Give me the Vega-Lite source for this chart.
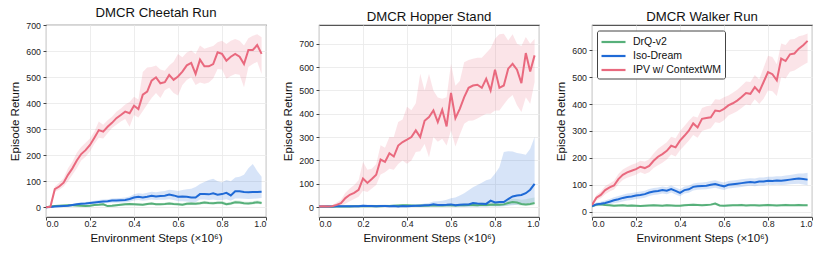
{
"$schema":"https://vega.github.io/schema/vega-lite/v6.json",
"padding":{"left":9,"top":5,"right":5,"bottom":5},
"background":"white",
"config":{
"font":"Liberation Sans",
"view":{"stroke":"#555","strokeWidth":1.1},
"axis":{"labelFontSize":8.8,"labelColor":"#222","titleFontSize":11.5,"titleFontWeight":"normal","titleColor":"#111","gridColor":"#ebebeb","gridWidth":0.9,"tickColor":"#444","tickSize":3,"domain":false,"labelPadding":2.5},
"axisX":{"titlePadding":5,"labelPadding":-1},
"axisY":{"titlePadding":5},
"title":{"fontSize":13.2,"fontWeight":"normal","color":"#111","offset":1,"anchor":"middle","frame":"group"},
"legend":{"fillColor":"white","strokeColor":"#444","padding":3,"cornerRadius":2,"symbolType":"M-1,0H2.43","symbolSize":196,"symbolStrokeWidth":2.2,"symbolOpacity":1,"symbolFillColor":"transparent","labelFontSize":10.5,"labelColor":"#111","labelOffset":16,"rowPadding":-2.5,"title":null}
},
"datasets":{
"cheetah":[
{"method":"DrQ-v2","step":0,"ret":0,"lo":0,"hi":1},{"method":"DrQ-v2","step":0.02,"ret":3,"lo":1,"hi":5},{"method":"DrQ-v2","step":0.04,"ret":5,"lo":2,"hi":8},{"method":"DrQ-v2","step":0.06,"ret":6,"lo":3,"hi":9},{"method":"DrQ-v2","step":0.08,"ret":7,"lo":3,"hi":11},{"method":"DrQ-v2","step":0.1,"ret":8,"lo":4,"hi":12},{"method":"DrQ-v2","step":0.12,"ret":8,"lo":4,"hi":12},{"method":"DrQ-v2","step":0.14,"ret":7,"lo":3,"hi":11},{"method":"DrQ-v2","step":0.16,"ret":6,"lo":2,"hi":10},{"method":"DrQ-v2","step":0.18,"ret":5,"lo":1,"hi":9},{"method":"DrQ-v2","step":0.2,"ret":6,"lo":2,"hi":10},{"method":"DrQ-v2","step":0.22,"ret":9,"lo":5,"hi":13},{"method":"DrQ-v2","step":0.24,"ret":10,"lo":6,"hi":15},{"method":"DrQ-v2","step":0.26,"ret":12,"lo":7,"hi":17},{"method":"DrQ-v2","step":0.28,"ret":5,"lo":1,"hi":10},{"method":"DrQ-v2","step":0.3,"ret":6,"lo":2,"hi":11},{"method":"DrQ-v2","step":0.32,"ret":8,"lo":3,"hi":13},{"method":"DrQ-v2","step":0.34,"ret":10,"lo":5,"hi":15},{"method":"DrQ-v2","step":0.36,"ret":12,"lo":7,"hi":17},{"method":"DrQ-v2","step":0.38,"ret":13,"lo":8,"hi":18},{"method":"DrQ-v2","step":0.4,"ret":12,"lo":7,"hi":17},{"method":"DrQ-v2","step":0.42,"ret":11,"lo":6,"hi":16},{"method":"DrQ-v2","step":0.44,"ret":10,"lo":5,"hi":15},{"method":"DrQ-v2","step":0.46,"ret":13,"lo":8,"hi":18},{"method":"DrQ-v2","step":0.48,"ret":15,"lo":10,"hi":20},{"method":"DrQ-v2","step":0.5,"ret":12,"lo":7,"hi":17},{"method":"DrQ-v2","step":0.52,"ret":12,"lo":7,"hi":17},{"method":"DrQ-v2","step":0.54,"ret":13,"lo":8,"hi":18},{"method":"DrQ-v2","step":0.56,"ret":15,"lo":10,"hi":21},{"method":"DrQ-v2","step":0.58,"ret":13,"lo":8,"hi":19},{"method":"DrQ-v2","step":0.6,"ret":12,"lo":7,"hi":18},{"method":"DrQ-v2","step":0.62,"ret":10,"lo":5,"hi":16},{"method":"DrQ-v2","step":0.64,"ret":14,"lo":8,"hi":20},{"method":"DrQ-v2","step":0.66,"ret":15,"lo":9,"hi":21},{"method":"DrQ-v2","step":0.68,"ret":14,"lo":8,"hi":20},{"method":"DrQ-v2","step":0.7,"ret":16,"lo":10,"hi":22},{"method":"DrQ-v2","step":0.72,"ret":19,"lo":13,"hi":25},{"method":"DrQ-v2","step":0.74,"ret":17,"lo":11,"hi":23},{"method":"DrQ-v2","step":0.76,"ret":16,"lo":10,"hi":22},{"method":"DrQ-v2","step":0.78,"ret":18,"lo":12,"hi":24},{"method":"DrQ-v2","step":0.8,"ret":18,"lo":12,"hi":25},{"method":"DrQ-v2","step":0.82,"ret":12,"lo":6,"hi":19},{"method":"DrQ-v2","step":0.84,"ret":15,"lo":9,"hi":22},{"method":"DrQ-v2","step":0.86,"ret":20,"lo":14,"hi":27},{"method":"DrQ-v2","step":0.88,"ret":19,"lo":13,"hi":26},{"method":"DrQ-v2","step":0.9,"ret":16,"lo":10,"hi":23},{"method":"DrQ-v2","step":0.92,"ret":15,"lo":9,"hi":22},{"method":"DrQ-v2","step":0.94,"ret":17,"lo":11,"hi":24},{"method":"DrQ-v2","step":0.96,"ret":20,"lo":14,"hi":27},{"method":"DrQ-v2","step":0.98,"ret":17,"lo":11,"hi":24},
{"method":"Iso-Dream","step":0,"ret":0,"lo":0,"hi":1},{"method":"Iso-Dream","step":0.02,"ret":1,"lo":0,"hi":3},{"method":"Iso-Dream","step":0.04,"ret":3,"lo":1,"hi":5},{"method":"Iso-Dream","step":0.06,"ret":4,"lo":2,"hi":7},{"method":"Iso-Dream","step":0.08,"ret":5,"lo":3,"hi":8},{"method":"Iso-Dream","step":0.1,"ret":6,"lo":3,"hi":10},{"method":"Iso-Dream","step":0.12,"ret":9,"lo":5,"hi":13},{"method":"Iso-Dream","step":0.14,"ret":12,"lo":7,"hi":17},{"method":"Iso-Dream","step":0.16,"ret":14,"lo":9,"hi":19},{"method":"Iso-Dream","step":0.18,"ret":15,"lo":10,"hi":21},{"method":"Iso-Dream","step":0.2,"ret":17,"lo":11,"hi":23},{"method":"Iso-Dream","step":0.22,"ret":19,"lo":13,"hi":25},{"method":"Iso-Dream","step":0.24,"ret":21,"lo":14,"hi":28},{"method":"Iso-Dream","step":0.26,"ret":23,"lo":16,"hi":30},{"method":"Iso-Dream","step":0.28,"ret":24,"lo":17,"hi":31},{"method":"Iso-Dream","step":0.3,"ret":26,"lo":18,"hi":34},{"method":"Iso-Dream","step":0.32,"ret":26,"lo":18,"hi":35},{"method":"Iso-Dream","step":0.34,"ret":27,"lo":19,"hi":36},{"method":"Iso-Dream","step":0.36,"ret":28,"lo":19,"hi":38},{"method":"Iso-Dream","step":0.38,"ret":32,"lo":22,"hi":42},{"method":"Iso-Dream","step":0.4,"ret":38,"lo":26,"hi":50},{"method":"Iso-Dream","step":0.42,"ret":41,"lo":28,"hi":54},{"method":"Iso-Dream","step":0.44,"ret":38,"lo":25,"hi":52},{"method":"Iso-Dream","step":0.46,"ret":41,"lo":27,"hi":56},{"method":"Iso-Dream","step":0.48,"ret":45,"lo":30,"hi":60},{"method":"Iso-Dream","step":0.5,"ret":42,"lo":28,"hi":58},{"method":"Iso-Dream","step":0.52,"ret":44,"lo":29,"hi":61},{"method":"Iso-Dream","step":0.54,"ret":45,"lo":29,"hi":63},{"method":"Iso-Dream","step":0.56,"ret":49,"lo":31,"hi":68},{"method":"Iso-Dream","step":0.58,"ret":46,"lo":28,"hi":66},{"method":"Iso-Dream","step":0.6,"ret":41,"lo":24,"hi":63},{"method":"Iso-Dream","step":0.62,"ret":42,"lo":24,"hi":67},{"method":"Iso-Dream","step":0.64,"ret":41,"lo":23,"hi":70},{"method":"Iso-Dream","step":0.66,"ret":38,"lo":20,"hi":72},{"method":"Iso-Dream","step":0.68,"ret":38,"lo":20,"hi":78},{"method":"Iso-Dream","step":0.7,"ret":51,"lo":30,"hi":90},{"method":"Iso-Dream","step":0.72,"ret":51,"lo":30,"hi":98},{"method":"Iso-Dream","step":0.74,"ret":50,"lo":28,"hi":105},{"method":"Iso-Dream","step":0.76,"ret":54,"lo":30,"hi":110},{"method":"Iso-Dream","step":0.78,"ret":49,"lo":27,"hi":100},{"method":"Iso-Dream","step":0.8,"ret":51,"lo":28,"hi":96},{"method":"Iso-Dream","step":0.82,"ret":56,"lo":31,"hi":105},{"method":"Iso-Dream","step":0.84,"ret":46,"lo":25,"hi":100},{"method":"Iso-Dream","step":0.86,"ret":62,"lo":34,"hi":115},{"method":"Iso-Dream","step":0.88,"ret":62,"lo":34,"hi":118},{"method":"Iso-Dream","step":0.9,"ret":59,"lo":33,"hi":125},{"method":"Iso-Dream","step":0.92,"ret":58,"lo":32,"hi":150},{"method":"Iso-Dream","step":0.94,"ret":59,"lo":33,"hi":167},{"method":"Iso-Dream","step":0.96,"ret":59,"lo":34,"hi":140},{"method":"Iso-Dream","step":0.98,"ret":60,"lo":36,"hi":118},
{"method":"IPV w/ ContextWM","step":0,"ret":0,"lo":0,"hi":2},{"method":"IPV w/ ContextWM","step":0.02,"ret":2,"lo":0,"hi":5},{"method":"IPV w/ ContextWM","step":0.04,"ret":70,"lo":60,"hi":80},{"method":"IPV w/ ContextWM","step":0.06,"ret":80,"lo":68,"hi":95},{"method":"IPV w/ ContextWM","step":0.08,"ret":95,"lo":80,"hi":112},{"method":"IPV w/ ContextWM","step":0.1,"ret":125,"lo":100,"hi":150},{"method":"IPV w/ ContextWM","step":0.12,"ret":150,"lo":125,"hi":175},{"method":"IPV w/ ContextWM","step":0.14,"ret":180,"lo":150,"hi":210},{"method":"IPV w/ ContextWM","step":0.16,"ret":205,"lo":180,"hi":232},{"method":"IPV w/ ContextWM","step":0.18,"ret":220,"lo":195,"hi":248},{"method":"IPV w/ ContextWM","step":0.2,"ret":240,"lo":215,"hi":265},{"method":"IPV w/ ContextWM","step":0.22,"ret":268,"lo":245,"hi":292},{"method":"IPV w/ ContextWM","step":0.24,"ret":297,"lo":268,"hi":330},{"method":"IPV w/ ContextWM","step":0.26,"ret":291,"lo":265,"hi":318},{"method":"IPV w/ ContextWM","step":0.28,"ret":310,"lo":285,"hi":335},{"method":"IPV w/ ContextWM","step":0.3,"ret":325,"lo":305,"hi":348},{"method":"IPV w/ ContextWM","step":0.32,"ret":343,"lo":318,"hi":368},{"method":"IPV w/ ContextWM","step":0.34,"ret":355,"lo":330,"hi":380},{"method":"IPV w/ ContextWM","step":0.36,"ret":368,"lo":340,"hi":395},{"method":"IPV w/ ContextWM","step":0.38,"ret":362,"lo":310,"hi":405},{"method":"IPV w/ ContextWM","step":0.4,"ret":391,"lo":355,"hi":425},{"method":"IPV w/ ContextWM","step":0.42,"ret":378,"lo":345,"hi":415},{"method":"IPV w/ ContextWM","step":0.44,"ret":433,"lo":370,"hi":520},{"method":"IPV w/ ContextWM","step":0.46,"ret":445,"lo":395,"hi":538},{"method":"IPV w/ ContextWM","step":0.48,"ret":487,"lo":420,"hi":540},{"method":"IPV w/ ContextWM","step":0.5,"ret":500,"lo":440,"hi":545},{"method":"IPV w/ ContextWM","step":0.52,"ret":477,"lo":420,"hi":530},{"method":"IPV w/ ContextWM","step":0.54,"ret":481,"lo":450,"hi":525},{"method":"IPV w/ ContextWM","step":0.56,"ret":509,"lo":460,"hi":545},{"method":"IPV w/ ContextWM","step":0.58,"ret":490,"lo":440,"hi":560},{"method":"IPV w/ ContextWM","step":0.6,"ret":503,"lo":430,"hi":590},{"method":"IPV w/ ContextWM","step":0.62,"ret":522,"lo":470,"hi":577},{"method":"IPV w/ ContextWM","step":0.64,"ret":546,"lo":490,"hi":595},{"method":"IPV w/ ContextWM","step":0.66,"ret":555,"lo":500,"hi":603},{"method":"IPV w/ ContextWM","step":0.68,"ret":513,"lo":470,"hi":590},{"method":"IPV w/ ContextWM","step":0.7,"ret":568,"lo":480,"hi":622},{"method":"IPV w/ ContextWM","step":0.72,"ret":542,"lo":475,"hi":610},{"method":"IPV w/ ContextWM","step":0.74,"ret":542,"lo":480,"hi":615},{"method":"IPV w/ ContextWM","step":0.76,"ret":551,"lo":495,"hi":620},{"method":"IPV w/ ContextWM","step":0.78,"ret":596,"lo":532,"hi":635},{"method":"IPV w/ ContextWM","step":0.8,"ret":590,"lo":530,"hi":640},{"method":"IPV w/ ContextWM","step":0.82,"ret":564,"lo":494,"hi":628},{"method":"IPV w/ ContextWM","step":0.84,"ret":579,"lo":505,"hi":640},{"method":"IPV w/ ContextWM","step":0.86,"ret":590,"lo":513,"hi":647},{"method":"IPV w/ ContextWM","step":0.88,"ret":579,"lo":510,"hi":640},{"method":"IPV w/ ContextWM","step":0.9,"ret":551,"lo":462,"hi":622},{"method":"IPV w/ ContextWM","step":0.92,"ret":605,"lo":540,"hi":650},{"method":"IPV w/ ContextWM","step":0.94,"ret":605,"lo":551,"hi":660},{"method":"IPV w/ ContextWM","step":0.96,"ret":624,"lo":560,"hi":665},{"method":"IPV w/ ContextWM","step":0.98,"ret":590,"lo":513,"hi":654}
],
"hopper":[
{"method":"DrQ-v2","step":0,"ret":2,"lo":0,"hi":5},{"method":"DrQ-v2","step":0.02,"ret":2,"lo":0,"hi":5},{"method":"DrQ-v2","step":0.04,"ret":3,"lo":0,"hi":6},{"method":"DrQ-v2","step":0.06,"ret":2,"lo":0,"hi":5},{"method":"DrQ-v2","step":0.08,"ret":3,"lo":0,"hi":6},{"method":"DrQ-v2","step":0.1,"ret":3,"lo":0,"hi":6},{"method":"DrQ-v2","step":0.12,"ret":3,"lo":0,"hi":7},{"method":"DrQ-v2","step":0.14,"ret":3,"lo":0,"hi":7},{"method":"DrQ-v2","step":0.16,"ret":4,"lo":1,"hi":8},{"method":"DrQ-v2","step":0.18,"ret":4,"lo":1,"hi":8},{"method":"DrQ-v2","step":0.2,"ret":4,"lo":1,"hi":8},{"method":"DrQ-v2","step":0.22,"ret":5,"lo":1,"hi":9},{"method":"DrQ-v2","step":0.24,"ret":4,"lo":1,"hi":8},{"method":"DrQ-v2","step":0.26,"ret":5,"lo":1,"hi":9},{"method":"DrQ-v2","step":0.28,"ret":4,"lo":1,"hi":9},{"method":"DrQ-v2","step":0.3,"ret":5,"lo":1,"hi":10},{"method":"DrQ-v2","step":0.32,"ret":5,"lo":1,"hi":10},{"method":"DrQ-v2","step":0.34,"ret":6,"lo":2,"hi":11},{"method":"DrQ-v2","step":0.36,"ret":7,"lo":2,"hi":12},{"method":"DrQ-v2","step":0.38,"ret":8,"lo":3,"hi":13},{"method":"DrQ-v2","step":0.4,"ret":8,"lo":3,"hi":13},{"method":"DrQ-v2","step":0.42,"ret":7,"lo":2,"hi":12},{"method":"DrQ-v2","step":0.44,"ret":6,"lo":2,"hi":11},{"method":"DrQ-v2","step":0.46,"ret":7,"lo":2,"hi":12},{"method":"DrQ-v2","step":0.48,"ret":6,"lo":2,"hi":11},{"method":"DrQ-v2","step":0.5,"ret":7,"lo":2,"hi":12},{"method":"DrQ-v2","step":0.52,"ret":7,"lo":2,"hi":13},{"method":"DrQ-v2","step":0.54,"ret":8,"lo":3,"hi":14},{"method":"DrQ-v2","step":0.56,"ret":7,"lo":2,"hi":13},{"method":"DrQ-v2","step":0.58,"ret":8,"lo":3,"hi":14},{"method":"DrQ-v2","step":0.6,"ret":8,"lo":3,"hi":15},{"method":"DrQ-v2","step":0.62,"ret":7,"lo":2,"hi":14},{"method":"DrQ-v2","step":0.64,"ret":8,"lo":3,"hi":15},{"method":"DrQ-v2","step":0.66,"ret":8,"lo":3,"hi":16},{"method":"DrQ-v2","step":0.68,"ret":9,"lo":3,"hi":17},{"method":"DrQ-v2","step":0.7,"ret":9,"lo":3,"hi":18},{"method":"DrQ-v2","step":0.72,"ret":8,"lo":3,"hi":18},{"method":"DrQ-v2","step":0.74,"ret":10,"lo":4,"hi":20},{"method":"DrQ-v2","step":0.76,"ret":9,"lo":3,"hi":20},{"method":"DrQ-v2","step":0.78,"ret":10,"lo":4,"hi":22},{"method":"DrQ-v2","step":0.8,"ret":11,"lo":4,"hi":24},{"method":"DrQ-v2","step":0.82,"ret":10,"lo":4,"hi":24},{"method":"DrQ-v2","step":0.84,"ret":12,"lo":5,"hi":27},{"method":"DrQ-v2","step":0.86,"ret":18,"lo":8,"hi":32},{"method":"DrQ-v2","step":0.88,"ret":22,"lo":10,"hi":36},{"method":"DrQ-v2","step":0.9,"ret":20,"lo":9,"hi":35},{"method":"DrQ-v2","step":0.92,"ret":14,"lo":6,"hi":32},{"method":"DrQ-v2","step":0.94,"ret":12,"lo":5,"hi":34},{"method":"DrQ-v2","step":0.96,"ret":14,"lo":6,"hi":38},{"method":"DrQ-v2","step":0.98,"ret":18,"lo":8,"hi":42},
{"method":"Iso-Dream","step":0,"ret":3,"lo":0,"hi":6},{"method":"Iso-Dream","step":0.02,"ret":3,"lo":0,"hi":6},{"method":"Iso-Dream","step":0.04,"ret":3,"lo":0,"hi":6},{"method":"Iso-Dream","step":0.06,"ret":3,"lo":0,"hi":6},{"method":"Iso-Dream","step":0.08,"ret":4,"lo":0,"hi":7},{"method":"Iso-Dream","step":0.1,"ret":4,"lo":0,"hi":8},{"method":"Iso-Dream","step":0.12,"ret":4,"lo":0,"hi":8},{"method":"Iso-Dream","step":0.14,"ret":4,"lo":0,"hi":8},{"method":"Iso-Dream","step":0.16,"ret":4,"lo":0,"hi":8},{"method":"Iso-Dream","step":0.18,"ret":4,"lo":0,"hi":9},{"method":"Iso-Dream","step":0.2,"ret":6,"lo":1,"hi":11},{"method":"Iso-Dream","step":0.22,"ret":5,"lo":1,"hi":10},{"method":"Iso-Dream","step":0.24,"ret":5,"lo":1,"hi":10},{"method":"Iso-Dream","step":0.26,"ret":4,"lo":0,"hi":9},{"method":"Iso-Dream","step":0.28,"ret":5,"lo":1,"hi":10},{"method":"Iso-Dream","step":0.3,"ret":5,"lo":1,"hi":10},{"method":"Iso-Dream","step":0.32,"ret":4,"lo":0,"hi":9},{"method":"Iso-Dream","step":0.34,"ret":5,"lo":1,"hi":10},{"method":"Iso-Dream","step":0.36,"ret":3,"lo":0,"hi":8},{"method":"Iso-Dream","step":0.38,"ret":5,"lo":1,"hi":10},{"method":"Iso-Dream","step":0.4,"ret":4,"lo":0,"hi":9},{"method":"Iso-Dream","step":0.42,"ret":5,"lo":1,"hi":11},{"method":"Iso-Dream","step":0.44,"ret":6,"lo":1,"hi":12},{"method":"Iso-Dream","step":0.46,"ret":6,"lo":1,"hi":13},{"method":"Iso-Dream","step":0.48,"ret":8,"lo":2,"hi":16},{"method":"Iso-Dream","step":0.5,"ret":8,"lo":2,"hi":18},{"method":"Iso-Dream","step":0.52,"ret":12,"lo":3,"hi":24},{"method":"Iso-Dream","step":0.54,"ret":9,"lo":2,"hi":25},{"method":"Iso-Dream","step":0.56,"ret":9,"lo":2,"hi":28},{"method":"Iso-Dream","step":0.58,"ret":10,"lo":2,"hi":32},{"method":"Iso-Dream","step":0.6,"ret":12,"lo":2,"hi":38},{"method":"Iso-Dream","step":0.62,"ret":8,"lo":1,"hi":42},{"method":"Iso-Dream","step":0.64,"ret":10,"lo":1,"hi":50},{"method":"Iso-Dream","step":0.66,"ret":11,"lo":1,"hi":60},{"method":"Iso-Dream","step":0.68,"ret":12,"lo":1,"hi":72},{"method":"Iso-Dream","step":0.7,"ret":18,"lo":2,"hi":85},{"method":"Iso-Dream","step":0.72,"ret":16,"lo":2,"hi":95},{"method":"Iso-Dream","step":0.74,"ret":15,"lo":2,"hi":105},{"method":"Iso-Dream","step":0.76,"ret":14,"lo":2,"hi":115},{"method":"Iso-Dream","step":0.78,"ret":28,"lo":4,"hi":121},{"method":"Iso-Dream","step":0.8,"ret":20,"lo":3,"hi":143},{"method":"Iso-Dream","step":0.82,"ret":22,"lo":3,"hi":171},{"method":"Iso-Dream","step":0.84,"ret":22,"lo":4,"hi":236},{"method":"Iso-Dream","step":0.86,"ret":35,"lo":6,"hi":240},{"method":"Iso-Dream","step":0.88,"ret":46,"lo":8,"hi":238},{"method":"Iso-Dream","step":0.9,"ret":50,"lo":10,"hi":232},{"method":"Iso-Dream","step":0.92,"ret":52,"lo":12,"hi":229},{"method":"Iso-Dream","step":0.94,"ret":60,"lo":14,"hi":225},{"method":"Iso-Dream","step":0.96,"ret":75,"lo":18,"hi":250},{"method":"Iso-Dream","step":0.98,"ret":100,"lo":22,"hi":300},
{"method":"IPV w/ ContextWM","step":0,"ret":3,"lo":0,"hi":6},{"method":"IPV w/ ContextWM","step":0.02,"ret":4,"lo":0,"hi":8},{"method":"IPV w/ ContextWM","step":0.04,"ret":3,"lo":0,"hi":7},{"method":"IPV w/ ContextWM","step":0.06,"ret":4,"lo":0,"hi":8},{"method":"IPV w/ ContextWM","step":0.08,"ret":10,"lo":2,"hi":20},{"method":"IPV w/ ContextWM","step":0.1,"ret":17,"lo":5,"hi":32},{"method":"IPV w/ ContextWM","step":0.12,"ret":39,"lo":15,"hi":62},{"method":"IPV w/ ContextWM","step":0.14,"ret":53,"lo":25,"hi":80},{"method":"IPV w/ ContextWM","step":0.16,"ret":61,"lo":35,"hi":95},{"method":"IPV w/ ContextWM","step":0.18,"ret":74,"lo":45,"hi":115},{"method":"IPV w/ ContextWM","step":0.2,"ret":123,"lo":70,"hi":193},{"method":"IPV w/ ContextWM","step":0.22,"ret":104,"lo":65,"hi":160},{"method":"IPV w/ ContextWM","step":0.24,"ret":121,"lo":80,"hi":165},{"method":"IPV w/ ContextWM","step":0.26,"ret":139,"lo":95,"hi":185},{"method":"IPV w/ ContextWM","step":0.28,"ret":204,"lo":140,"hi":265},{"method":"IPV w/ ContextWM","step":0.3,"ret":194,"lo":150,"hi":255},{"method":"IPV w/ ContextWM","step":0.32,"ret":231,"lo":165,"hi":300},{"method":"IPV w/ ContextWM","step":0.34,"ret":217,"lo":160,"hi":300},{"method":"IPV w/ ContextWM","step":0.36,"ret":264,"lo":185,"hi":365},{"method":"IPV w/ ContextWM","step":0.38,"ret":279,"lo":200,"hi":375},{"method":"IPV w/ ContextWM","step":0.4,"ret":289,"lo":186,"hi":430},{"method":"IPV w/ ContextWM","step":0.42,"ret":300,"lo":200,"hi":415},{"method":"IPV w/ ContextWM","step":0.44,"ret":329,"lo":236,"hi":445},{"method":"IPV w/ ContextWM","step":0.46,"ret":300,"lo":240,"hi":571},{"method":"IPV w/ ContextWM","step":0.48,"ret":370,"lo":270,"hi":500},{"method":"IPV w/ ContextWM","step":0.5,"ret":386,"lo":214,"hi":570},{"method":"IPV w/ ContextWM","step":0.52,"ret":414,"lo":300,"hi":500},{"method":"IPV w/ ContextWM","step":0.54,"ret":364,"lo":280,"hi":470},{"method":"IPV w/ ContextWM","step":0.56,"ret":417,"lo":293,"hi":464},{"method":"IPV w/ ContextWM","step":0.58,"ret":346,"lo":264,"hi":471},{"method":"IPV w/ ContextWM","step":0.6,"ret":489,"lo":329,"hi":614},{"method":"IPV w/ ContextWM","step":0.62,"ret":381,"lo":260,"hi":520},{"method":"IPV w/ ContextWM","step":0.64,"ret":421,"lo":310,"hi":540},{"method":"IPV w/ ContextWM","step":0.66,"ret":471,"lo":357,"hi":621},{"method":"IPV w/ ContextWM","step":0.68,"ret":511,"lo":370,"hi":630},{"method":"IPV w/ ContextWM","step":0.7,"ret":521,"lo":371,"hi":636},{"method":"IPV w/ ContextWM","step":0.72,"ret":524,"lo":380,"hi":640},{"method":"IPV w/ ContextWM","step":0.74,"ret":511,"lo":390,"hi":640},{"method":"IPV w/ ContextWM","step":0.76,"ret":550,"lo":400,"hi":660},{"method":"IPV w/ ContextWM","step":0.78,"ret":500,"lo":400,"hi":680},{"method":"IPV w/ ContextWM","step":0.8,"ret":589,"lo":414,"hi":721},{"method":"IPV w/ ContextWM","step":0.82,"ret":511,"lo":414,"hi":740},{"method":"IPV w/ ContextWM","step":0.84,"ret":521,"lo":440,"hi":743},{"method":"IPV w/ ContextWM","step":0.86,"ret":593,"lo":464,"hi":714},{"method":"IPV w/ ContextWM","step":0.88,"ret":614,"lo":480,"hi":740},{"method":"IPV w/ ContextWM","step":0.9,"ret":589,"lo":436,"hi":700},{"method":"IPV w/ ContextWM","step":0.92,"ret":531,"lo":407,"hi":690},{"method":"IPV w/ ContextWM","step":0.94,"ret":660,"lo":471,"hi":729},{"method":"IPV w/ ContextWM","step":0.96,"ret":581,"lo":443,"hi":700},{"method":"IPV w/ ContextWM","step":0.98,"ret":650,"lo":536,"hi":720}
],
"walker":[
{"method":"DrQ-v2","step":0,"ret":20,"lo":16,"hi":24},{"method":"DrQ-v2","step":0.02,"ret":26,"lo":22,"hi":30},{"method":"DrQ-v2","step":0.04,"ret":27,"lo":23,"hi":31},{"method":"DrQ-v2","step":0.06,"ret":25,"lo":21,"hi":29},{"method":"DrQ-v2","step":0.08,"ret":24,"lo":20,"hi":28},{"method":"DrQ-v2","step":0.1,"ret":22,"lo":18,"hi":26},{"method":"DrQ-v2","step":0.12,"ret":23,"lo":19,"hi":27},{"method":"DrQ-v2","step":0.14,"ret":24,"lo":20,"hi":28},{"method":"DrQ-v2","step":0.16,"ret":22,"lo":18,"hi":26},{"method":"DrQ-v2","step":0.18,"ret":23,"lo":19,"hi":27},{"method":"DrQ-v2","step":0.2,"ret":22,"lo":18,"hi":26},{"method":"DrQ-v2","step":0.22,"ret":21,"lo":17,"hi":25},{"method":"DrQ-v2","step":0.24,"ret":22,"lo":18,"hi":26},{"method":"DrQ-v2","step":0.26,"ret":23,"lo":19,"hi":27},{"method":"DrQ-v2","step":0.28,"ret":24,"lo":20,"hi":28},{"method":"DrQ-v2","step":0.3,"ret":23,"lo":19,"hi":27},{"method":"DrQ-v2","step":0.32,"ret":22,"lo":18,"hi":26},{"method":"DrQ-v2","step":0.34,"ret":24,"lo":20,"hi":28},{"method":"DrQ-v2","step":0.36,"ret":23,"lo":19,"hi":27},{"method":"DrQ-v2","step":0.38,"ret":22,"lo":18,"hi":26},{"method":"DrQ-v2","step":0.4,"ret":22,"lo":18,"hi":26},{"method":"DrQ-v2","step":0.42,"ret":24,"lo":20,"hi":28},{"method":"DrQ-v2","step":0.44,"ret":25,"lo":21,"hi":29},{"method":"DrQ-v2","step":0.46,"ret":26,"lo":22,"hi":30},{"method":"DrQ-v2","step":0.48,"ret":25,"lo":21,"hi":29},{"method":"DrQ-v2","step":0.5,"ret":24,"lo":20,"hi":28},{"method":"DrQ-v2","step":0.52,"ret":25,"lo":21,"hi":29},{"method":"DrQ-v2","step":0.54,"ret":26,"lo":22,"hi":30},{"method":"DrQ-v2","step":0.56,"ret":30,"lo":25,"hi":35},{"method":"DrQ-v2","step":0.58,"ret":23,"lo":19,"hi":27},{"method":"DrQ-v2","step":0.6,"ret":22,"lo":18,"hi":26},{"method":"DrQ-v2","step":0.62,"ret":23,"lo":19,"hi":27},{"method":"DrQ-v2","step":0.64,"ret":24,"lo":20,"hi":28},{"method":"DrQ-v2","step":0.66,"ret":24,"lo":20,"hi":28},{"method":"DrQ-v2","step":0.68,"ret":25,"lo":21,"hi":29},{"method":"DrQ-v2","step":0.7,"ret":23,"lo":19,"hi":27},{"method":"DrQ-v2","step":0.72,"ret":24,"lo":20,"hi":28},{"method":"DrQ-v2","step":0.74,"ret":24,"lo":20,"hi":28},{"method":"DrQ-v2","step":0.76,"ret":23,"lo":19,"hi":27},{"method":"DrQ-v2","step":0.78,"ret":24,"lo":20,"hi":28},{"method":"DrQ-v2","step":0.8,"ret":25,"lo":21,"hi":29},{"method":"DrQ-v2","step":0.82,"ret":24,"lo":20,"hi":28},{"method":"DrQ-v2","step":0.84,"ret":23,"lo":19,"hi":27},{"method":"DrQ-v2","step":0.86,"ret":24,"lo":20,"hi":28},{"method":"DrQ-v2","step":0.88,"ret":25,"lo":21,"hi":29},{"method":"DrQ-v2","step":0.9,"ret":24,"lo":20,"hi":28},{"method":"DrQ-v2","step":0.92,"ret":24,"lo":20,"hi":28},{"method":"DrQ-v2","step":0.94,"ret":25,"lo":21,"hi":29},{"method":"DrQ-v2","step":0.96,"ret":24,"lo":20,"hi":28},{"method":"DrQ-v2","step":0.98,"ret":24,"lo":20,"hi":28},
{"method":"Iso-Dream","step":0,"ret":21,"lo":15,"hi":27},{"method":"Iso-Dream","step":0.02,"ret":27,"lo":20,"hi":34},{"method":"Iso-Dream","step":0.04,"ret":29,"lo":21,"hi":37},{"method":"Iso-Dream","step":0.06,"ret":32,"lo":23,"hi":41},{"method":"Iso-Dream","step":0.08,"ret":37,"lo":27,"hi":47},{"method":"Iso-Dream","step":0.1,"ret":42,"lo":31,"hi":53},{"method":"Iso-Dream","step":0.12,"ret":46,"lo":34,"hi":58},{"method":"Iso-Dream","step":0.14,"ret":51,"lo":38,"hi":63},{"method":"Iso-Dream","step":0.16,"ret":54,"lo":41,"hi":67},{"method":"Iso-Dream","step":0.18,"ret":56,"lo":43,"hi":69},{"method":"Iso-Dream","step":0.2,"ret":60,"lo":47,"hi":72},{"method":"Iso-Dream","step":0.22,"ret":62,"lo":49,"hi":75},{"method":"Iso-Dream","step":0.24,"ret":65,"lo":52,"hi":78},{"method":"Iso-Dream","step":0.26,"ret":71,"lo":58,"hi":84},{"method":"Iso-Dream","step":0.28,"ret":75,"lo":62,"hi":88},{"method":"Iso-Dream","step":0.3,"ret":77,"lo":64,"hi":90},{"method":"Iso-Dream","step":0.32,"ret":80,"lo":67,"hi":93},{"method":"Iso-Dream","step":0.34,"ret":78,"lo":65,"hi":91},{"method":"Iso-Dream","step":0.36,"ret":84,"lo":71,"hi":97},{"method":"Iso-Dream","step":0.38,"ret":77,"lo":64,"hi":90},{"method":"Iso-Dream","step":0.4,"ret":70,"lo":57,"hi":83},{"method":"Iso-Dream","step":0.42,"ret":80,"lo":67,"hi":93},{"method":"Iso-Dream","step":0.44,"ret":83,"lo":70,"hi":96},{"method":"Iso-Dream","step":0.46,"ret":92,"lo":79,"hi":105},{"method":"Iso-Dream","step":0.48,"ret":94,"lo":81,"hi":107},{"method":"Iso-Dream","step":0.5,"ret":95,"lo":82,"hi":108},{"method":"Iso-Dream","step":0.52,"ret":96,"lo":83,"hi":110},{"method":"Iso-Dream","step":0.54,"ret":100,"lo":86,"hi":114},{"method":"Iso-Dream","step":0.56,"ret":103,"lo":89,"hi":117},{"method":"Iso-Dream","step":0.58,"ret":98,"lo":84,"hi":112},{"method":"Iso-Dream","step":0.6,"ret":94,"lo":80,"hi":108},{"method":"Iso-Dream","step":0.62,"ret":100,"lo":86,"hi":114},{"method":"Iso-Dream","step":0.64,"ret":102,"lo":88,"hi":116},{"method":"Iso-Dream","step":0.66,"ret":104,"lo":90,"hi":118},{"method":"Iso-Dream","step":0.68,"ret":106,"lo":92,"hi":120},{"method":"Iso-Dream","step":0.7,"ret":108,"lo":94,"hi":122},{"method":"Iso-Dream","step":0.72,"ret":110,"lo":96,"hi":124},{"method":"Iso-Dream","step":0.74,"ret":108,"lo":94,"hi":123},{"method":"Iso-Dream","step":0.76,"ret":112,"lo":97,"hi":127},{"method":"Iso-Dream","step":0.78,"ret":112,"lo":97,"hi":127},{"method":"Iso-Dream","step":0.8,"ret":115,"lo":100,"hi":130},{"method":"Iso-Dream","step":0.82,"ret":114,"lo":99,"hi":130},{"method":"Iso-Dream","step":0.84,"ret":116,"lo":100,"hi":132},{"method":"Iso-Dream","step":0.86,"ret":115,"lo":99,"hi":132},{"method":"Iso-Dream","step":0.88,"ret":117,"lo":100,"hi":134},{"method":"Iso-Dream","step":0.9,"ret":119,"lo":102,"hi":136},{"method":"Iso-Dream","step":0.92,"ret":121,"lo":103,"hi":139},{"method":"Iso-Dream","step":0.94,"ret":123,"lo":104,"hi":142},{"method":"Iso-Dream","step":0.96,"ret":121,"lo":101,"hi":142},{"method":"Iso-Dream","step":0.98,"ret":119,"lo":98,"hi":145},
{"method":"IPV w/ ContextWM","step":0,"ret":25,"lo":18,"hi":32},{"method":"IPV w/ ContextWM","step":0.02,"ret":52,"lo":42,"hi":62},{"method":"IPV w/ ContextWM","step":0.04,"ret":62,"lo":50,"hi":75},{"method":"IPV w/ ContextWM","step":0.06,"ret":80,"lo":65,"hi":95},{"method":"IPV w/ ContextWM","step":0.08,"ret":90,"lo":75,"hi":105},{"method":"IPV w/ ContextWM","step":0.1,"ret":97,"lo":82,"hi":115},{"method":"IPV w/ ContextWM","step":0.12,"ret":121,"lo":102,"hi":140},{"method":"IPV w/ ContextWM","step":0.14,"ret":137,"lo":118,"hi":157},{"method":"IPV w/ ContextWM","step":0.16,"ret":146,"lo":126,"hi":166},{"method":"IPV w/ ContextWM","step":0.18,"ret":152,"lo":132,"hi":174},{"method":"IPV w/ ContextWM","step":0.2,"ret":158,"lo":137,"hi":180},{"method":"IPV w/ ContextWM","step":0.22,"ret":167,"lo":146,"hi":189},{"method":"IPV w/ ContextWM","step":0.24,"ret":162,"lo":140,"hi":186},{"method":"IPV w/ ContextWM","step":0.26,"ret":170,"lo":146,"hi":195},{"method":"IPV w/ ContextWM","step":0.28,"ret":189,"lo":162,"hi":216},{"method":"IPV w/ ContextWM","step":0.3,"ret":204,"lo":172,"hi":234},{"method":"IPV w/ ContextWM","step":0.32,"ret":214,"lo":182,"hi":246},{"method":"IPV w/ ContextWM","step":0.34,"ret":226,"lo":194,"hi":258},{"method":"IPV w/ ContextWM","step":0.36,"ret":245,"lo":212,"hi":278},{"method":"IPV w/ ContextWM","step":0.38,"ret":239,"lo":205,"hi":273},{"method":"IPV w/ ContextWM","step":0.4,"ret":264,"lo":228,"hi":300},{"method":"IPV w/ ContextWM","step":0.42,"ret":282,"lo":246,"hi":318},{"method":"IPV w/ ContextWM","step":0.44,"ret":301,"lo":264,"hi":338},{"method":"IPV w/ ContextWM","step":0.46,"ret":328,"lo":285,"hi":355},{"method":"IPV w/ ContextWM","step":0.48,"ret":313,"lo":275,"hi":350},{"method":"IPV w/ ContextWM","step":0.5,"ret":345,"lo":300,"hi":385},{"method":"IPV w/ ContextWM","step":0.52,"ret":348,"lo":305,"hi":392},{"method":"IPV w/ ContextWM","step":0.54,"ret":351,"lo":310,"hi":395},{"method":"IPV w/ ContextWM","step":0.56,"ret":376,"lo":332,"hi":418},{"method":"IPV w/ ContextWM","step":0.58,"ret":373,"lo":330,"hi":416},{"method":"IPV w/ ContextWM","step":0.6,"ret":382,"lo":340,"hi":425},{"method":"IPV w/ ContextWM","step":0.62,"ret":395,"lo":357,"hi":432},{"method":"IPV w/ ContextWM","step":0.64,"ret":403,"lo":365,"hi":442},{"method":"IPV w/ ContextWM","step":0.66,"ret":413,"lo":373,"hi":453},{"method":"IPV w/ ContextWM","step":0.68,"ret":426,"lo":385,"hi":468},{"method":"IPV w/ ContextWM","step":0.7,"ret":441,"lo":398,"hi":484},{"method":"IPV w/ ContextWM","step":0.72,"ret":438,"lo":396,"hi":482},{"method":"IPV w/ ContextWM","step":0.74,"ret":463,"lo":418,"hi":508},{"method":"IPV w/ ContextWM","step":0.76,"ret":445,"lo":400,"hi":492},{"method":"IPV w/ ContextWM","step":0.78,"ret":482,"lo":420,"hi":535},{"method":"IPV w/ ContextWM","step":0.8,"ret":519,"lo":450,"hi":580},{"method":"IPV w/ ContextWM","step":0.82,"ret":511,"lo":448,"hi":575},{"method":"IPV w/ ContextWM","step":0.84,"ret":488,"lo":430,"hi":548},{"method":"IPV w/ ContextWM","step":0.86,"ret":569,"lo":500,"hi":625},{"method":"IPV w/ ContextWM","step":0.88,"ret":560,"lo":495,"hi":620},{"method":"IPV w/ ContextWM","step":0.9,"ret":585,"lo":520,"hi":640},{"method":"IPV w/ ContextWM","step":0.92,"ret":588,"lo":525,"hi":642},{"method":"IPV w/ ContextWM","step":0.94,"ret":606,"lo":535,"hi":652},{"method":"IPV w/ ContextWM","step":0.96,"ret":619,"lo":545,"hi":656},{"method":"IPV w/ ContextWM","step":0.98,"ret":635,"lo":555,"hi":662}
]
},
"spacing":53,
"bounds":"flush",
"resolve":{"scale":{"color":"independent","x":"independent","y":"independent"},"legend":{"color":"independent"}},
"hconcat":[
{"width":220,"height":192,"title":"DMCR Cheetah Run","data":{"name":"cheetah"},
"encoding":{
"x":{"field":"step","type":"quantitative","scale":{"domain":[0,1],"nice":false},"axis":{"title":"Environment Steps (×10⁶)","values":[0,0.2,0.4,0.6,0.8,1],"format":".1f"}},
"color":{"field":"method","type":"nominal","scale":{"domain":["DrQ-v2","Iso-Dream","IPV w/ ContextWM"],"range":["#57b07a","#1f6ad6","#e9697e"]},"legend":null}},
"layer":[
{"mark":{"type":"area","opacity":0.18,"clip":true},
"encoding":{"y":{"field":"lo","type":"quantitative","scale":{"domain":[-37,701],"nice":false,"zero":false},"axis":{"title":"Episode Return","values":[0,100,200,300,400,500,600,700]}},"y2":{"field":"hi"}}},
{"mark":{"type":"line","strokeWidth":2,"clip":true},
"encoding":{"y":{"field":"ret","type":"quantitative","scale":{"domain":[-37,701],"nice":false,"zero":false},"axis":{"title":"Episode Return","values":[0,100,200,300,400,500,600,700]}}}}
]},
{"width":220,"height":192,"title":"DMCR Hopper Stand","data":{"name":"hopper"},
"encoding":{
"x":{"field":"step","type":"quantitative","scale":{"domain":[0,1],"nice":false},"axis":{"title":"Environment Steps (×10⁶)","values":[0,0.2,0.4,0.6,0.8,1],"format":".1f"}},
"color":{"field":"method","type":"nominal","scale":{"domain":["DrQ-v2","Iso-Dream","IPV w/ ContextWM"],"range":["#57b07a","#1f6ad6","#e9697e"]},"legend":null}},
"layer":[
{"mark":{"type":"area","opacity":0.18,"clip":true},
"encoding":{"y":{"field":"lo","type":"quantitative","scale":{"domain":[-42,780],"nice":false,"zero":false},"axis":{"title":"Episode Return","values":[0,100,200,300,400,500,600,700]}},"y2":{"field":"hi"}}},
{"mark":{"type":"line","strokeWidth":2,"clip":true},
"encoding":{"y":{"field":"ret","type":"quantitative","scale":{"domain":[-42,780],"nice":false,"zero":false},"axis":{"title":"Episode Return","values":[0,100,200,300,400,500,600,700]}}}}
]},
{"width":220,"height":192,"title":"DMCR Walker Run","data":{"name":"walker"},
"encoding":{
"x":{"field":"step","type":"quantitative","scale":{"domain":[0,1],"nice":false},"axis":{"title":"Environment Steps (×10⁶)","values":[0,0.2,0.4,0.6,0.8,1],"format":".1f"}},
"color":{"field":"method","type":"nominal","scale":{"domain":["DrQ-v2","Iso-Dream","IPV w/ ContextWM"],"range":["#57b07a","#1f6ad6","#e9697e"]},"legend":{"orient":"none","legendX":5,"legendY":5.5}}},
"layer":[
{"mark":{"type":"area","opacity":0.18,"clip":true},
"encoding":{"y":{"field":"lo","type":"quantitative","scale":{"domain":[-20,694],"nice":false,"zero":false},"axis":{"title":"Episode Return","values":[0,100,200,300,400,500,600]}},"y2":{"field":"hi"}}},
{"mark":{"type":"line","strokeWidth":2,"clip":true},
"encoding":{"y":{"field":"ret","type":"quantitative","scale":{"domain":[-20,694],"nice":false,"zero":false},"axis":{"title":"Episode Return","values":[0,100,200,300,400,500,600]}}}}
]}
]
}
